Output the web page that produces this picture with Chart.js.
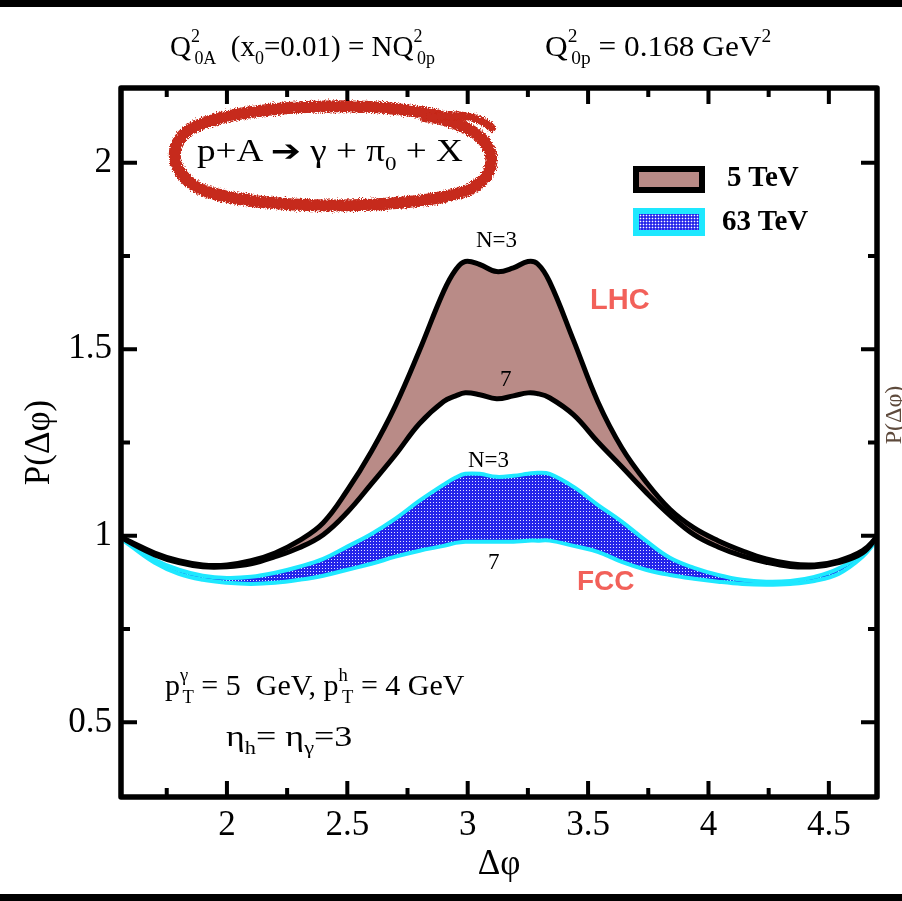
<!DOCTYPE html>
<html>
<head>
<meta charset="utf-8">
<script src="https://cdn.jsdelivr.net/npm/chart.js@4.4.1/dist/chart.umd.min.js"></script>
<style>
    body { margin: 0; background: #fff; overflow: hidden; }
    #wrap { position: relative; width: 902px; height: 901px; overflow: hidden; }
    #phiChart { position: absolute; left: 0; top: 0; }
    .bar { position: absolute; left: 0; width: 902px; background: #000; }
    .t { position: absolute; white-space: nowrap; line-height: 1; color: #000;
         font-family: 'Liberation Serif', 'Times New Roman', serif; transform-origin: 0 0; }
    .t sup, .t sub { font-size: 0.62em; line-height: 0; position: relative; vertical-align: baseline; }
    .t sup { top: -0.78em; }
    .t sub { top: 0.45em; }
    .t .back { margin-left: -0.31em; }
    .tag { position: absolute; white-space: nowrap; line-height: 1; color: #f2615a;
           font-family: 'Liberation Sans', Arial, sans-serif; font-weight: bold; }
    .swatch { position: absolute; box-sizing: border-box; }
</style>
</head>
<body>
<div id="wrap">
    <canvas id="phiChart" width="902" height="901"></canvas>

    <div class="bar" style="top:0;height:7px"></div>
    <div class="bar" style="top:894px;height:7px"></div>

    <!-- header -->
    <div class="t" style="left:170px;top:32px;font-size:29px">Q<sup>2</sup><sub class="back">0A</sub>&nbsp; (x<sub>0</sub>=0.01) = NQ<sup>2</sup><sub class="back">0p</sub></div>
    <div class="t" style="left:545px;top:32px;font-size:29px;transform:scaleX(1.08)">Q<sup>2</sup><sub class="back">0p</sub>&nbsp;= 0.168 GeV<sup>2</sup></div>

    <!-- reaction, circled -->
    <svg width="902" height="901" style="position:absolute;left:0;top:0">
        <defs>
            <filter id="rough" x="-10%" y="-30%" width="120%" height="160%">
                <feTurbulence type="fractalNoise" baseFrequency="0.8" numOctaves="2" seed="3" result="n"/>
                <feDisplacementMap in="SourceGraphic" in2="n" scale="6" xChannelSelector="R" yChannelSelector="G"/>
            </filter>
        </defs>
        <g fill="none" stroke="#c6291a" stroke-linecap="round" filter="url(#rough)">
            <path stroke-width="12" d="M 440 116 C 370 100 250 104 196 126 C 165 140 168 176 205 191 C 260 210 400 210 460 193 C 500 181 500 146 470 130 C 455 122 440 118 425 116"/>
            <path stroke-width="8" d="M 430 118 C 455 112 480 116 492 128"/>
        </g>
    </svg>
    <div class="t" style="left:197px;top:135px;font-size:31px;transform:scaleX(1.2)">p+A <b style="font-family:'DejaVu Sans',sans-serif;font-size:30px">&#10132;</b> &gamma; + &pi;<sub>0</sub> + X</div>

    <!-- legend -->
    <div class="swatch" style="left:633px;top:166px;width:72px;height:27px;border:6px solid #000;background:#b98b87"></div>
    <div class="t" style="left:727px;top:162px;font-size:29px;font-weight:bold">5 TeV</div>
    <div class="swatch" style="left:633px;top:208px;width:72px;height:28px;border:6px solid #1ee8ff;background:#2626ea radial-gradient(circle, #ffffff 0.7px, rgba(38,38,234,0) 1.1px) 0 0/3px 3px"></div>
    <div class="t" style="left:722px;top:206px;font-size:29px;font-weight:bold">63 TeV</div>

    <!-- curve labels -->
    <div class="t" style="left:476px;top:228px;font-size:23px">N=3</div>
    <div class="t" style="left:500px;top:367px;font-size:23px">7</div>
    <div class="t" style="left:468px;top:448px;font-size:23px">N=3</div>
    <div class="t" style="left:488px;top:550px;font-size:23px">7</div>
    <div class="tag" style="left:590px;top:285px;font-size:29px">LHC</div>
    <div class="tag" style="left:577px;top:567px;font-size:28px">FCC</div>

    <!-- kinematics -->
    <div class="t" style="left:165px;top:670px;font-size:30px">p<sup>&gamma;</sup><sub class="back">T</sub> = 5&nbsp; GeV, p<sup>h</sup><sub class="back">T</sub> = 4 GeV</div>
    <div class="t" style="left:226px;top:721px;font-size:30px;transform:scaleX(1.2)">&eta;<sub>h</sub>= &eta;<sub>&gamma;</sub>=3</div>

    <!-- neighbouring panel's axis title, cut by the edge -->
    <div class="t" style="left:893px;top:415px;font-size:24px;color:#5e4a3c;transform-origin:50% 50%;transform:translate(-50%,-50%) rotate(-90deg)">P(&Delta;&phi;)</div>
</div>

<script>
// azimuthal angle grid (rad) shared by all four curves
var phiGrid = [1.56, 1.60, 1.70, 1.80, 1.90, 2.00, 2.10, 2.20, 2.30, 2.40, 2.50, 2.60, 2.70, 2.80, 2.90, 2.95, 2.99, 3.05, 3.12,
               3.19, 3.25, 3.29, 3.34, 3.44, 3.54, 3.64, 3.74, 3.84, 3.94, 4.04, 4.14, 4.24, 4.34, 4.44, 4.54, 4.64, 4.70];

// LHC, 5 TeV
var lhcN3 = [0.997, 0.984, 0.954, 0.933, 0.922, 0.922, 0.933, 0.954, 0.987, 1.035, 1.122, 1.226, 1.349, 1.497, 1.655, 1.713, 1.735, 1.727, 1.708,
             1.718, 1.735, 1.729, 1.681, 1.523, 1.360, 1.236, 1.145, 1.071, 1.021, 0.987, 0.960, 0.938, 0.925, 0.922, 0.933, 0.960, 0.997];
var lhcN7 = [0.997, 0.981, 0.949, 0.928, 0.917, 0.917, 0.925, 0.944, 0.968, 1.003, 1.063, 1.139, 1.217, 1.301, 1.360, 1.375, 1.383, 1.378, 1.367,
             1.375, 1.383, 1.381, 1.370, 1.324, 1.252, 1.185, 1.117, 1.055, 1.003, 0.970, 0.946, 0.929, 0.918, 0.917, 0.928, 0.954, 0.997];

// FCC, 63 TeV
var fccN3 = [0.995, 0.976, 0.936, 0.909, 0.893, 0.887, 0.890, 0.901, 0.917, 0.938, 0.971, 1.005, 1.046, 1.094, 1.137, 1.156, 1.166, 1.166, 1.158,
             1.161, 1.166, 1.169, 1.166, 1.131, 1.083, 1.038, 0.987, 0.941, 0.914, 0.895, 0.882, 0.877, 0.879, 0.890, 0.912, 0.954, 0.995];
var fccN7 = [0.992, 0.973, 0.928, 0.898, 0.882, 0.874, 0.871, 0.874, 0.882, 0.893, 0.909, 0.925, 0.944, 0.960, 0.973, 0.981, 0.984, 0.984, 0.984,
             0.984, 0.987, 0.987, 0.987, 0.973, 0.957, 0.930, 0.909, 0.895, 0.885, 0.877, 0.871, 0.869, 0.871, 0.879, 0.898, 0.944, 0.989];

var xTicks = [2, 2.5, 3, 3.5, 4, 4.5];
var xMinorTicks = [1.75, 2.25, 2.75, 3.25, 3.75, 4.25];
var yTicks = [0.5, 1, 1.5, 2];
var yMinorTicks = [0.75, 1.25, 1.75];

function points(ys) {
    return phiGrid.map(function(x, i) { return { x: x, y: ys[i] }; });
}

// boxed frame with inward ticks on all four sides
var frameTicks = {
    id: 'frameTicks',
    afterDatasetsDraw: function(chart) {
        var ctx = chart.ctx, a = chart.chartArea;
        var xs = chart.scales.x, ys = chart.scales.y;
        ctx.save();
        ctx.strokeStyle = '#000';
        ctx.lineWidth = 4;
        ctx.beginPath();
        function xTick(v, len) {
            var p = xs.getPixelForValue(v);
            ctx.moveTo(p, a.bottom); ctx.lineTo(p, a.bottom - len);
            ctx.moveTo(p, a.top); ctx.lineTo(p, a.top + len);
        }
        function yTick(v, len) {
            var p = ys.getPixelForValue(v);
            ctx.moveTo(a.left, p); ctx.lineTo(a.left + len, p);
            ctx.moveTo(a.right, p); ctx.lineTo(a.right - len, p);
        }
        xTicks.forEach(function(v) { xTick(v, 16); });
        xMinorTicks.forEach(function(v) { xTick(v, 9); });
        yTicks.forEach(function(v) { yTick(v, 16); });
        yMinorTicks.forEach(function(v) { yTick(v, 9); });
        ctx.stroke();
        ctx.lineWidth = 5.5;
        ctx.lineJoin = 'round';
        ctx.strokeRect(a.left, a.top, a.right - a.left, a.bottom - a.top);
        ctx.restore();
    }
};

document.addEventListener('DOMContentLoaded', function() {
    var canvas = document.getElementById('phiChart');
    var ctx = canvas.getContext('2d');

    // blue fill with a fine grid of light dots
    var tile = document.createElement('canvas');
    tile.width = 3; tile.height = 3;
    var tctx = tile.getContext('2d');
    tctx.fillStyle = '#2424ea';
    tctx.fillRect(0, 0, 3, 3);
    tctx.fillStyle = '#e4e4ff';
    tctx.fillRect(1, 1, 1, 1);
    var dots = ctx.createPattern(tile, 'repeat');

    var serif = "'Liberation Serif', 'Times New Roman', serif";

    var phiChart = new Chart(ctx, {
        type: 'line',
        data: {
            datasets: [{
                label: '5 TeV, N=3',
                data: points(lhcN3),
                borderColor: '#000',
                borderWidth: 5,
                backgroundColor: '#b98b87',
                fill: '+1'
            }, {
                label: '5 TeV, N=7',
                data: points(lhcN7),
                borderColor: '#000',
                borderWidth: 5,
                fill: false
            }, {
                label: '63 TeV, N=3',
                data: points(fccN3),
                borderColor: '#1ee8ff',
                borderWidth: 4,
                backgroundColor: dots,
                fill: '+1'
            }, {
                label: '63 TeV, N=7',
                data: points(fccN7),
                borderColor: '#1ee8ff',
                borderWidth: 4,
                fill: false
            }]
        },
        options: {
            responsive: false,
            animation: false,
            elements: {
                point: { radius: 0 },
                line: { tension: 0.4 }
            },
            layout: { padding: { left: 0, top: 88, right: 25, bottom: 0 } },
            plugins: {
                legend: { display: false },
                tooltip: { enabled: false },
                filler: { drawTime: 'beforeDatasetsDraw' }
            },
            scales: {
                x: {
                    type: 'linear',
                    min: 1.56,
                    max: 4.70,
                    grid: { display: false, drawTicks: false },
                    border: { display: false },
                    afterBuildTicks: function(s) { s.ticks = xTicks.map(function(v) { return { value: v }; }); },
                    afterFit: function(s) { s.height = 104; },
                    ticks: {
                        color: '#000',
                        padding: 8,
                        maxRotation: 0,
                        font: { family: serif, size: 35 },
                        callback: function(v) { return String(v); }
                    },
                    title: {
                        display: true,
                        text: 'Δφ',
                        color: '#000',
                        font: { family: serif, size: 35 },
                        padding: { top: 0, bottom: 15 }
                    }
                },
                y: {
                    type: 'linear',
                    min: 0.3,
                    max: 2.2,
                    grid: { display: false, drawTicks: false },
                    border: { display: false },
                    afterBuildTicks: function(s) { s.ticks = yTicks.map(function(v) { return { value: v }; }); },
                    afterFit: function(s) { s.width = 121; },
                    ticks: {
                        color: '#000',
                        padding: 9,
                        font: { family: serif, size: 35 },
                        callback: function(v) { return String(v); }
                    },
                    title: {
                        display: true,
                        text: 'P(Δφ)',
                        color: '#000',
                        font: { family: serif, size: 35 },
                        padding: { top: 19, bottom: 0 }
                    }
                }
            }
        },
        plugins: [frameTicks]
    });
});
</script>
</body>
</html>
